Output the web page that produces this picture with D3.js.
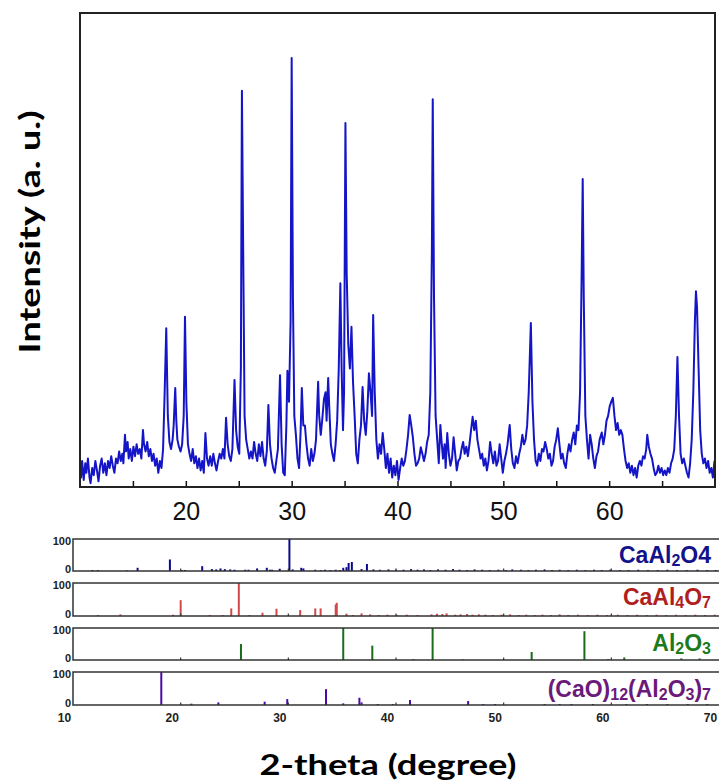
<!DOCTYPE html>
<html><head><meta charset="utf-8">
<script src="https://cdn.jsdelivr.net/npm/d3@7"></script>
<style>body{margin:0;background:#fff}</style>
</head><body>
<svg id="c" width="719" height="783"></svg>
<script>
// Measured XRD pattern: [2-theta, intensity (a.u.)]
const xrdPattern = [
[10.0,45],[10.1,20],[10.2,55],[10.35,15],[10.5,50],[10.6,30],[10.75,60],[10.9,20],[11.0,8],[11.15,40],[11.3,25],[11.45,55],[11.6,35],[11.75,12],[11.9,45],[12.05,60],[12.2,30],[12.35,50],[12.5,25],[12.65,55],[12.8,40],[12.95,65],[13.1,45],[13.25,30],[13.4,60],[13.55,50],[13.7,75],[13.85,55],[14.0,70],[14.1,50],[14.25,110],[14.35,75],[14.5,95],[14.6,60],[14.75,80],[14.9,55],[15.05,85],[15.2,65],[15.35,90],[15.5,70],[15.65,80],[15.8,60],[15.95,120],[16.05,90],[16.2,75],[16.35,95],[16.5,65],[16.65,80],[16.8,55],[16.95,70],[17.1,45],[17.25,60],[17.4,30],[17.55,55],[17.7,40],[17.85,80],[18.0,200],[18.15,335],[18.3,150],[18.45,95],[18.6,80],[18.75,100],[18.85,130],[19.0,209],[19.1,140],[19.2,100],[19.35,85],[19.5,75],[19.65,90],[19.8,150],[19.92,359],[20.05,180],[20.2,90],[20.35,70],[20.5,55],[20.65,80],[20.8,50],[20.95,65],[21.1,40],[21.25,60],[21.4,35],[21.55,55],[21.7,30],[21.85,114],[22.0,60],[22.15,45],[22.3,65],[22.45,45],[22.6,70],[22.75,50],[22.9,35],[23.05,55],[23.2,70],[23.35,60],[23.5,80],[23.65,60],[23.8,146],[23.95,90],[24.1,65],[24.25,55],[24.4,80],[24.6,226],[24.75,120],[24.9,85],[25.05,70],[25.2,250],[25.3,836],[25.42,500],[25.55,150],[25.7,100],[25.85,80],[26.0,60],[26.15,75],[26.3,60],[26.45,95],[26.6,70],[26.75,55],[26.9,90],[27.05,65],[27.2,95],[27.35,60],[27.5,45],[27.65,75],[27.8,173],[27.95,90],[28.1,60],[28.25,40],[28.4,30],[28.55,55],[28.7,80],[28.9,236],[29.05,90],[29.2,30],[29.35,25],[29.5,130],[29.6,245],[29.75,180],[29.9,350],[30.0,905],[30.12,400],[30.25,150],[30.4,110],[30.55,60],[30.7,40],[30.85,120],[30.96,209],[31.1,130],[31.25,130],[31.4,90],[31.55,60],[31.7,45],[31.85,80],[32.0,55],[32.15,70],[32.3,100],[32.5,222],[32.6,150],[32.75,110],[32.9,145],[33.05,185],[33.2,200],[33.3,140],[33.45,230],[33.55,170],[33.7,90],[33.85,70],[34.0,55],[34.15,90],[34.3,140],[34.45,250],[34.6,430],[34.72,250],[34.85,120],[34.95,200],[35.08,768],[35.2,450],[35.35,300],[35.5,250],[35.65,338],[35.8,220],[35.95,150],[36.1,70],[36.25,50],[36.4,100],[36.55,130],[36.7,211],[36.85,140],[37.0,110],[37.15,160],[37.3,240],[37.45,200],[37.6,150],[37.7,363],[37.85,200],[38.0,100],[38.15,60],[38.3,90],[38.45,70],[38.6,114],[38.75,80],[38.9,40],[39.05,70],[39.2,30],[39.35,60],[39.5,20],[39.65,45],[39.8,25],[39.95,55],[40.1,15],[40.25,40],[40.4,60],[40.55,45],[40.7,55],[40.85,80],[41.0,110],[41.15,152],[41.3,130],[41.45,105],[41.6,70],[41.75,45],[41.9,50],[42.05,60],[42.2,84],[42.35,70],[42.5,55],[42.65,70],[42.8,95],[42.95,110],[43.1,200],[43.25,500],[43.33,818],[43.45,400],[43.6,150],[43.75,100],[43.9,50],[44.05,131],[44.15,100],[44.3,60],[44.45,90],[44.55,40],[44.7,114],[44.85,70],[45.0,45],[45.15,60],[45.3,105],[45.45,70],[45.6,35],[45.75,55],[45.9,60],[46.05,80],[46.2,95],[46.35,70],[46.5,85],[46.65,65],[46.8,90],[46.95,120],[47.1,148],[47.25,120],[47.4,140],[47.55,100],[47.7,80],[47.85,60],[48.0,70],[48.15,45],[48.3,60],[48.45,35],[48.6,55],[48.75,95],[48.9,70],[49.05,50],[49.2,75],[49.35,45],[49.5,55],[49.65,90],[49.8,60],[49.95,30],[50.1,55],[50.25,70],[50.4,90],[50.6,131],[50.75,80],[50.9,50],[51.05,40],[51.2,65],[51.35,50],[51.5,70],[51.65,85],[51.8,110],[51.95,90],[52.1,100],[52.25,130],[52.4,200],[52.6,346],[52.75,180],[52.9,100],[53.05,55],[53.2,45],[53.35,70],[53.5,55],[53.65,80],[53.8,75],[53.95,95],[54.1,80],[54.25,60],[54.4,70],[54.55,45],[54.7,55],[54.85,85],[55.0,100],[55.15,124],[55.3,90],[55.45,60],[55.6,70],[55.75,50],[55.9,40],[56.05,70],[56.2,90],[56.35,75],[56.5,100],[56.65,115],[56.8,90],[56.95,130],[57.1,120],[57.25,200],[57.4,450],[57.5,650],[57.6,400],[57.75,150],[57.9,100],[58.05,60],[58.2,110],[58.35,90],[58.5,60],[58.65,40],[58.8,65],[58.95,75],[59.1,100],[59.3,115],[59.45,90],[59.6,110],[59.75,140],[59.9,150],[60.05,170],[60.2,180],[60.35,188],[60.5,150],[60.65,120],[60.8,135],[60.95,110],[61.1,120],[61.25,110],[61.4,80],[61.55,55],[61.7,40],[61.85,50],[62.0,30],[62.15,45],[62.3,25],[62.45,40],[62.6,20],[62.75,45],[62.9,55],[63.05,45],[63.2,65],[63.35,60],[63.5,80],[63.6,110],[63.75,85],[63.9,70],[64.05,60],[64.2,40],[64.35,25],[64.5,30],[64.65,45],[64.8,30],[64.95,40],[65.1,25],[65.25,35],[65.4,25],[65.55,40],[65.7,30],[65.85,50],[66.0,60],[66.15,80],[66.3,150],[66.45,274],[66.6,150],[66.75,70],[66.9,50],[67.05,60],[67.2,45],[67.35,30],[67.5,20],[67.65,50],[67.8,100],[67.95,200],[68.1,350],[68.2,413],[68.3,380],[68.45,250],[68.6,120],[68.75,70],[68.9,50],[69.05,60],[69.2,40],[69.35,55],[69.5,30],[69.65,40],[69.8,20],[69.95,55]
];

// Reference stick patterns: [2-theta, relative intensity]
const caAl2O4 = [[11.8,3],[12.3,3],[15.0,2],[16.0,10],[19.0,36],[20.1,3],[20.4,3],[22.0,15],[22.9,6],[23.3,5],[23.7,8],[24.1,6],[24.6,5],[25.0,4],[26.0,4],[26.3,4],[27.1,8],[28.0,10],[28.3,4],[28.5,4],[29.2,7],[30.1,100],[30.4,5],[31.2,10],[31.4,8],[32.5,4],[33.0,3],[33.4,4],[33.9,3],[34.4,4],[34.8,3],[35.1,10],[35.4,12],[35.6,25],[35.9,28],[36.8,6],[37.3,22],[37.9,5],[38.5,4],[39.3,5],[40.0,4],[40.7,4],[41.4,6],[42.0,4],[42.6,5],[43.2,3],[43.9,5],[44.6,4],[45.3,6],[45.9,4],[46.6,3],[47.3,5],[48.0,4],[48.7,3],[49.5,4],[50.2,3],[50.8,5],[51.6,4],[52.3,3],[53.0,4],[53.8,5],[54.5,3],[55.2,4],[56.0,3],[56.8,4],[57.6,3],[58.4,4],[59.1,3],[59.9,4],[60.8,3],[61.6,3],[62.5,4],[63.4,3],[64.3,3],[65.2,4],[66.1,3],[67.0,3],[68.0,4],[68.9,3],[69.7,3]];
const caAl4O7 = [[12.3,3],[14.4,5],[19.3,4],[20.0,48],[22.7,3],[23.9,3],[24.7,23],[25.4,100],[26.4,3],[27.6,10],[28.9,22],[31.1,18],[32.5,23],[33.0,23],[34.4,35],[34.5,40],[35.4,7],[36.0,3],[36.8,8],[37.6,5],[38.4,3],[39.2,4],[40.1,3],[41.0,4],[42.0,3],[43.3,5],[43.8,7],[44.3,6],[44.7,8],[45.5,4],[46.0,5],[46.6,6],[47.1,4],[47.7,5],[48.3,4],[49.0,3],[49.8,4],[50.6,5],[51.4,3],[52.1,4],[52.9,3],[53.6,4],[54.4,3],[55.2,5],[56.0,3],[56.9,4],[57.8,3],[58.7,4],[59.6,3],[60.6,4],[61.5,3],[62.4,4],[63.3,3],[64.2,4],[65.1,3],[66.0,4],[66.9,3],[67.8,4],[68.7,3],[69.6,4]];
const al2O3 = [[25.6,50],[35.1,100],[37.8,45],[41.6,3],[43.4,100],[46.2,2],[52.6,25],[57.5,90],[59.7,3],[61.2,8],[66.5,5],[68.2,5]];
const c12a7 = [[18.2,100],[21.0,4],[23.5,8],[27.8,10],[29.9,18],[33.5,48],[35.1,5],[36.6,22],[36.8,8],[38.3,3],[39.7,3],[41.3,15],[46.7,12],[48.1,3],[49.2,3],[53.8,3],[55.2,3],[56.3,3],[58.3,3],[61.4,3],[63.3,3],[65.2,3],[67.1,3],[68.9,3]];

const topTicks = [15,20,25,30,35,40,45,50,55,60,65];
const bottomTicks = [10,20,30,40,50,60,70];

const svg = d3.select("#c");
svg.append("rect").attr("width",719).attr("height",783).attr("fill","#fff");

// ---------- main pattern ----------
const x = d3.scaleLinear().domain([10,70]).range([80,715]);
const y = d3.scaleLinear().domain([0,1000]).range([487,13]);

const ax = svg.append("g").attr("transform","translate(0,487)")
  .call(d3.axisBottom(x).tickValues(topTicks).tickSize(-6).tickPadding(15)
    .tickFormat(d => d % 10 === 0 ? d : ""));
ax.select(".domain").remove();
ax.selectAll("line").attr("stroke","#111").attr("stroke-width",1.5);
ax.selectAll("text").attr("font-family","Liberation Sans, Arial, sans-serif")
  .attr("font-size",25).attr("fill","#111");

svg.append("defs").append("clipPath").attr("id","clipTop")
  .append("rect").attr("x",80).attr("y",13).attr("width",635).attr("height",474);

svg.append("path").datum(xrdPattern)
  .attr("clip-path","url(#clipTop)")
  .attr("fill","none").attr("stroke","#1515c8").attr("stroke-width",2)
  .attr("stroke-linejoin","round")
  .attr("d", d3.line().x(d=>x(d[0])).y(d=>y(d[1])));

svg.append("rect").attr("x",80).attr("y",13).attr("width",635).attr("height",474)
  .attr("fill","none").attr("stroke","#222").attr("stroke-width",2);

svg.append("text")
  .attr("transform","translate(40,232) rotate(-90)")
  .attr("text-anchor","middle")
  .attr("font-family","Lato, 'Open Sans', sans-serif").attr("font-weight","bold")
  .attr("font-size",28).attr("fill","#000")
  .attr("textLength",243).attr("lengthAdjust","spacingAndGlyphs")
  .text("Intensity (a. u.)");

// ---------- reference panels ----------
const xb = d3.scaleLinear().domain([10,70]).range([73,719]);
const panels = [
  {data: caAl2O4, top: 539, bottom: 571, color: "#0a0a8a", label: [["CaAl",0],["2",1],["O4",0]], lcolor:"#12128a", lbase:563},
  {data: caAl4O7, top: 583, bottom: 616, color: "#d24848", label: [["CaAl",0],["4",1],["O",0],["7",1]], lcolor:"#b01e1e", lbase:605},
  {data: al2O3,  top: 628, bottom: 660, color: "#1a6b1a", label: [["Al",0],["2",1],["O",0],["3",1]], lcolor:"#1c7a1c", lbase:651},
  {data: c12a7,  top: 672, bottom: 705, color: "#4a0aa8", label: [["(CaO)",0],["12",1],["(Al",0],["2",1],["O",0],["3",1],[")",0],["7",1]], lcolor:"#6a1a78", lbase:697}
];

panels.forEach((p,i) => {
  const yp = d3.scaleLinear().domain([0,100]).range([p.bottom,p.top]);
  const g = svg.append("g");
  g.selectAll("line.stick").data(p.data).join("line").attr("class","stick")
    .attr("x1",d=>xb(d[0])).attr("x2",d=>xb(d[0]))
    .attr("y1",yp(0)).attr("y2",d=>yp(d[1]))
    .attr("stroke",p.color).attr("stroke-width",2);
  g.append("rect").attr("x",73).attr("y",p.top).attr("width",660).attr("height",p.bottom-p.top)
    .attr("fill","none").attr("stroke","#333").attr("stroke-width",1.5);
  g.selectAll("line.tk").data(bottomTicks.slice(1,6)).join("line").attr("class","tk")
    .attr("x1",d=>xb(d)).attr("x2",d=>xb(d)).attr("y1",p.bottom).attr("y2",p.bottom-2.5)
    .attr("stroke","#333").attr("stroke-width",1.2);
  [[100,p.top,"0.5em"],[0,p.bottom,"0.2em"]].forEach(([v,yy,dy]) => {
    g.append("text").attr("x",71).attr("y",yy).attr("dy",dy)
      .attr("text-anchor","end").attr("font-family","Liberation Sans, Arial, sans-serif")
      .attr("font-weight","bold").attr("font-size",11).attr("fill","#222").text(v);
  });
  const t = g.append("text").attr("x",711).attr("y",p.lbase).attr("text-anchor","end")
    .attr("font-family","Liberation Sans, Arial, sans-serif").attr("font-weight","bold")
    .attr("font-size",23).attr("fill",p.lcolor);
  p.label.forEach(([s,sub]) => {
    t.append("tspan").attr("font-size", sub ? 16 : 23)
      .attr("baseline-shift", sub ? "-3" : "0").text(s);
  });
});

// bottom axis labels
const axb = svg.append("g").attr("transform","translate(-9,705)")
  .call(d3.axisBottom(xb).tickValues(bottomTicks).tickSize(0).tickPadding(8));
axb.select(".domain").remove();
axb.selectAll("text").attr("font-family","Liberation Sans, Arial, sans-serif")
  .attr("font-weight","bold").attr("font-size",12).attr("fill","#222");

svg.append("text").attr("x",388).attr("y",775).attr("text-anchor","middle")
  .attr("font-family","Lato, 'Open Sans', sans-serif").attr("font-weight","bold")
  .attr("font-size",29).attr("fill","#000")
  .attr("textLength",257).attr("lengthAdjust","spacingAndGlyphs")
  .text("2-theta (degree)");
</script>
</body></html>
